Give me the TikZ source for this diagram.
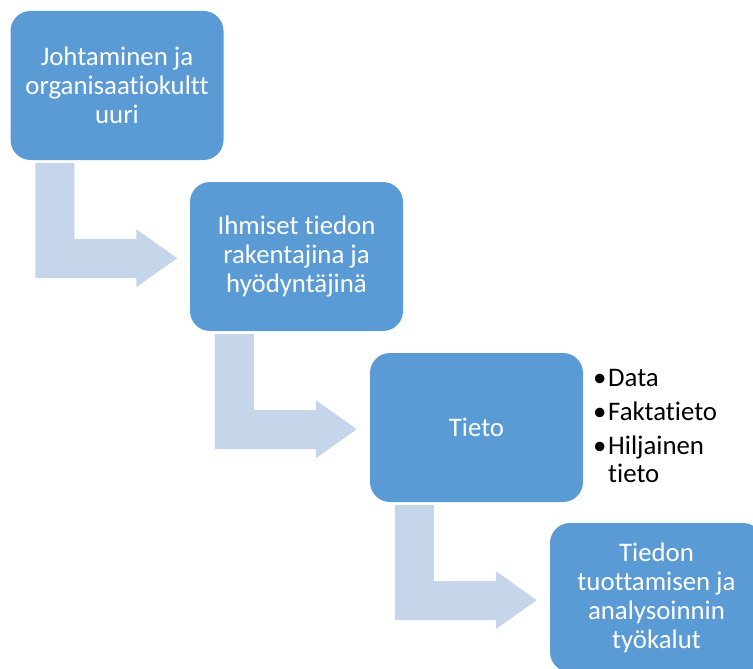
\documentclass[tikz,border=0pt]{standalone}
\usepackage{fontspec}
\setmainfont{Carlito}[Ligatures={NoCommon}]
\definecolor{boxblue}{HTML}{5B9BD5}
\definecolor{arrowblue}{HTML}{C5D5EA}
\begin{document}
\begin{tikzpicture}[x=1pt,y=-1pt,
  box/.style={draw=none, fill=boxblue, rounded corners=20pt, minimum width=213pt,
    minimum height=149pt, text=white, align=center,
    font=\fontsize{26.8}{29}\selectfont, inner sep=0pt},
  bullettext/.style={anchor=base west, font=\fontsize{26.8}{29}\selectfont, inner sep=0pt, text=black},
  pics/bentarrow/.style={code={\fill[arrowblue] (0,0) -- (39,0) -- (39,76) -- (101,76)
    -- (101,66) -- (142,95) -- (101,124) -- (101,115) -- (0,115) -- cycle;}}]
\useasboundingbox (0,0) rectangle (753,669);
\clip (0,0) rectangle (753,669);
\node[box] (b1) at (117,85.5) {Johtaminen ja\\organisaatiokultt\\uuri};
\node[box] (b2) at (296.5,256.5) {Ihmiset tiedon\\rakentajina ja\\hyödyntäjinä};
\node[box] (b3) at (476.5,427.5) {Tieto};
\node[box] (b4) at (656.5,597.5) {Tiedon\\tuottamisen ja\\analysoinnin\\työkalut};
\pic at ([shift={(25,3)}]b1.south west) {bentarrow};
\pic at ([shift={(25,3)}]b2.south west) {bentarrow};
\pic at ([shift={(25,3)}]b3.south west) {bentarrow};
\node[bullettext] (p1) at (593,386) {•};
\node[bullettext] (t1) at (608,386) {Data};
\node[bullettext] (p2) at (593,420) {•};
\node[bullettext] (t2) at (608,420) {Faktatieto};
\node[bullettext] (p3) at (593,454) {•};
\node[bullettext] (t3) at (608,454) {Hiljainen};
\node[bullettext] (t4) at (608,482) {tieto};
\end{tikzpicture}
\end{document}
